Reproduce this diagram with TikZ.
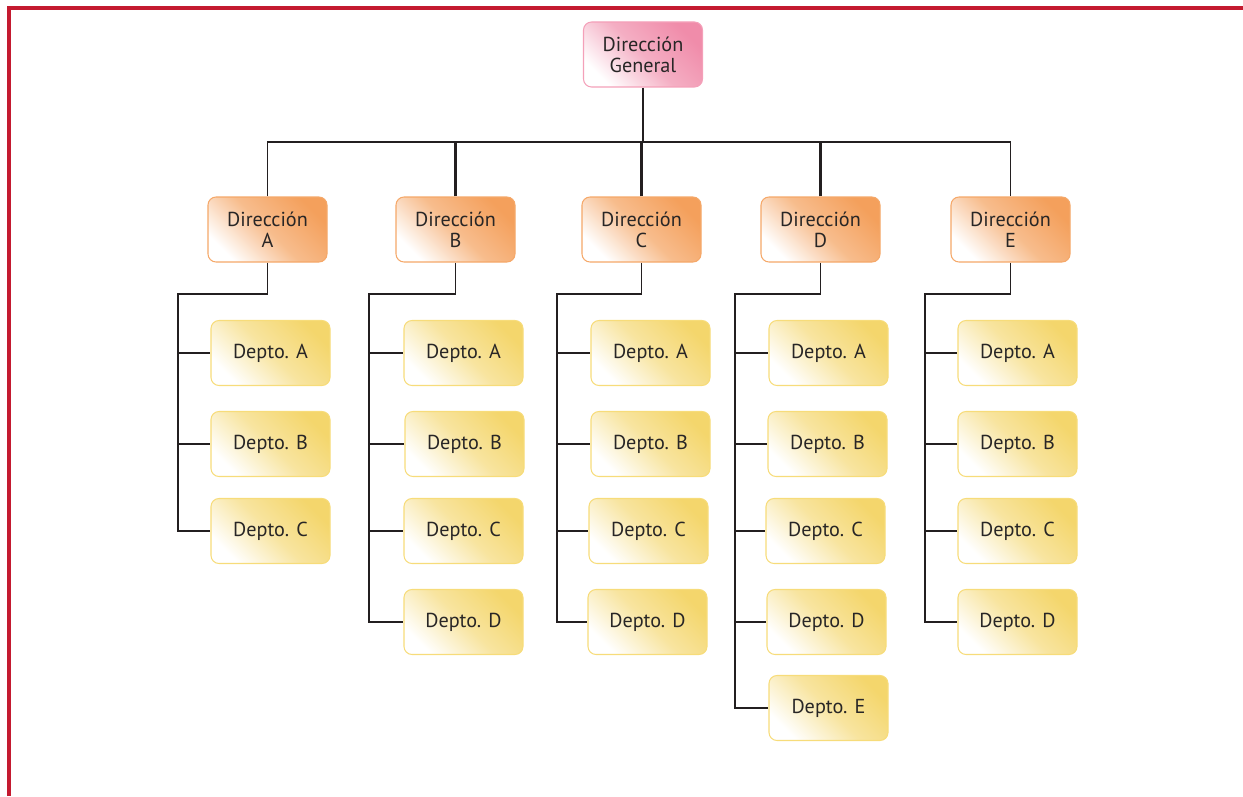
\documentclass[tikz,border=0pt]{standalone}
\usepackage{fontspec}
\setmainfont{PT Sans}
\usetikzlibrary{calc}
\definecolor{framered}{RGB}{196,26,48}
\definecolor{linegray}{RGB}{35,31,32}
\definecolor{textgray}{RGB}{40,38,38}
\definecolor{dgfill}{RGB}{240,140,170}
\definecolor{dgline}{RGB}{244,160,185}
\definecolor{dirfill}{RGB}{244,160,92}
\definecolor{dirline}{RGB}{245,168,105}
\definecolor{depfill}{RGB}{244,214,108}
\definecolor{depline}{RGB}{247,220,122}
\tikzset{
  box/.style={
    draw, rounded corners=0.16cm, line width=0.6pt,
    minimum width=2.38cm, minimum height=1.3cm, inner sep=0pt,
    align=center, text=textgray, font=\fontsize{11.5}{12}\selectfont
  },
  general/.style={box, draw=dgline, top color=dgfill, bottom color=white,
    middle color=dgfill!70, shading angle=-45},
  direccion/.style={box, draw=dirline, top color=dirfill, bottom color=white,
    middle color=dirfill!70, shading angle=-45},
  depto/.style={box, draw=depline, top color=depfill, bottom color=white,
    middle color=depfill!65, shading angle=-45},
  link/.style={draw=linegray, line width=0.8pt},
  branch/.style={draw=linegray, line width=1.6pt},
  pageframe/.style={draw=framered, line width=2pt}
}

\begin{document}
\begin{tikzpicture}
    \useasboundingbox (0,0) rectangle (24.86,15.92);
    \draw [pageframe] (0.18,0) -- (0.18,15.76) -- (24.86,15.76);

    % top level
    \node [general] (dg) at (12.86, 14.83) {Dirección\\General};
    \coordinate (bus) at (12.86, 13.08);

    \node [direccion] (dirA) at ( 5.35, 11.33) {Dirección\\A};
    \node [direccion] (dirB) at ( 9.11, 11.33) {Dirección\\B};
    \node [direccion] (dirC) at (12.83, 11.33) {Dirección\\C};
    \node [direccion] (dirD) at (16.41, 11.33) {Dirección\\D};
    \node [direccion] (dirE) at (20.21, 11.33) {Dirección\\E};

    \draw [branch] (dg.south) -- (dg.south |- bus);
    \draw [link]   (dirA.north) |- (bus -| dirE.north) -- (dirE.north);
    \draw [branch] (dirB.north) -- (dirB.north |- bus);
    \draw [branch] (dirC.north) -- (dirC.north |- bus);
    \draw [branch] (dirD.north) -- (dirD.north |- bus);

    % column A
    \coordinate (topA) at ( 3.56, 10.04);
    \node [depto] (depAa) at ( 5.41, 8.86) {Depto. A};
    \node [depto] (depAb) at ( 5.41, 7.04) {Depto. B};
    \node [depto] (depAc) at ( 5.41, 5.30) {Depto. C};
    \draw [link]   (dirA.south) |- (topA) |- (depAc.west);
    \draw [branch] (topA |- depAa.west) -- (depAa.west);
    \draw [branch] (topA |- depAb.west) -- (depAb.west);

    % column B
    \coordinate (topB) at ( 7.38, 10.04);
    \node [depto] (depBa) at ( 9.27, 8.86) {Depto. A};
    \node [depto] (depBb) at ( 9.29, 7.04) {Depto. B};
    \node [depto] (depBc) at ( 9.27, 5.30) {Depto. C};
    \node [depto] (depBd) at ( 9.27, 3.48) {Depto. D};
    \draw [link]   (dirB.south) |- (topB) |- (depBd.west);
    \draw [branch] (topB |- depBa.west) -- (depBa.west);
    \draw [branch] (topB |- depBb.west) -- (depBb.west);
    \draw [branch] (topB |- depBc.west) -- (depBc.west);

    % column C
    \coordinate (topC) at (11.14, 10.04);
    \node [depto] (depCa) at (13.01, 8.86) {Depto. A};
    \node [depto] (depCb) at (13.01, 7.04) {Depto. B};
    \node [depto] (depCc) at (12.97, 5.30) {Depto. C};
    \node [depto] (depCd) at (12.95, 3.48) {Depto. D};
    \draw [link]   (dirC.south) |- (topC) |- (depCd.west);
    \draw [branch] (topC |- depCa.west) -- (depCa.west);
    \draw [branch] (topC |- depCb.west) -- (depCb.west);
    \draw [branch] (topC |- depCc.west) -- (depCc.west);

    % column D
    \coordinate (topD) at (14.70, 10.04);
    \node [depto] (depDa) at (16.57, 8.86) {Depto. A};
    \node [depto] (depDb) at (16.55, 7.04) {Depto. B};
    \node [depto] (depDc) at (16.51, 5.30) {Depto. C};
    \node [depto] (depDd) at (16.53, 3.48) {Depto. D};
    \node [depto] (depDe) at (16.57, 1.76) {Depto. E};
    \draw [link]   (dirD.south) |- (topD) |- (depDe.west);
    \draw [branch] (topD |- depDa.west) -- (depDa.west);
    \draw [branch] (topD |- depDb.west) -- (depDb.west);
    \draw [branch] (topD |- depDc.west) -- (depDc.west);
    \draw [branch] (topD |- depDd.west) -- (depDd.west);

    % column E
    \coordinate (topE) at (18.50, 10.04);
    \node [depto] (depEa) at (20.35, 8.86) {Depto. A};
    \node [depto] (depEb) at (20.35, 7.04) {Depto. B};
    \node [depto] (depEc) at (20.35, 5.30) {Depto. C};
    \node [depto] (depEd) at (20.35, 3.48) {Depto. D};
    \draw [link]   (dirE.south) |- (topE) |- (depEd.west);
    \draw [branch] (topE |- depEa.west) -- (depEa.west);
    \draw [branch] (topE |- depEb.west) -- (depEb.west);
    \draw [branch] (topE |- depEc.west) -- (depEc.west);
\end{tikzpicture}
\end{document}
